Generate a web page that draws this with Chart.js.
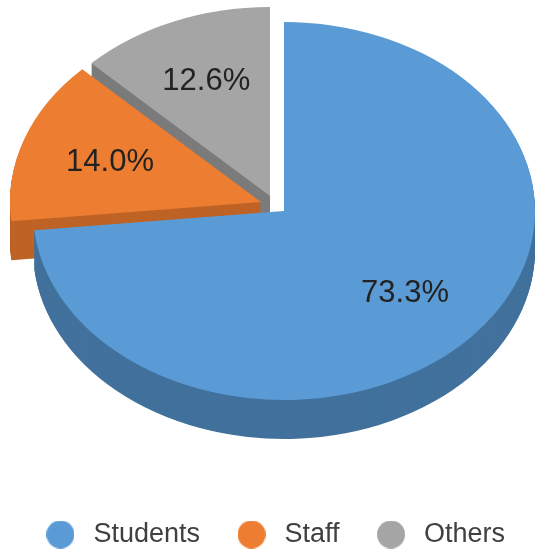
<!DOCTYPE html>
<html>
<head>
<meta charset="utf-8">
<style>html,body{margin:0;padding:0;background:#fff}canvas{display:block}</style>
<script src="https://cdn.jsdelivr.net/npm/chart.js@4"></script>
</head>
<body>
<canvas id="c" width="550" height="556"></canvas>
<script>
const categories = ['Students', 'Staff', 'Others'];
const shares = [73.3, 14.0, 12.6];
const topColors = ['#5B9BD5', '#ED7D31', '#A5A5A5'];
const wallColors = ['#41719C', '#BE6326', '#7B7B7B'];

const RADIUS = 251, TILT = 0.753, DEPTH = 39;
const labelRadius = [163, 160, 165];
const apexX = [284, 261, 270];
const apexY = [211, 202, 196];
const drawOrder = [2, 1, 0];

function sliceSpace(ctx, el, i, drop) {
  ctx.translate(apexX[i], apexY[i] + drop);
  ctx.scale(1, TILT);
  ctx.translate(-el.x, -el.y);
}

const tiltedPie = {
  id: 'tiltedPie',
  beforeDatasetsDraw(chart) {
    const ctx = chart.ctx;
    const els = chart.getDatasetMeta(0).data;
    for (const i of drawOrder) {
      const el = els[i], own = el.options;
      el.options = Object.assign({}, own, { backgroundColor: wallColors[i] });
      for (let d = DEPTH; d > 0; d--) {
        ctx.save();
        sliceSpace(ctx, el, i, d);
        el.draw(ctx);
        ctx.restore();
      }
      el.options = own;
      ctx.save();
      sliceSpace(ctx, el, i, 0);
      el.draw(ctx);
      ctx.restore();
    }
    ctx.save();
    ctx.font = '31px "Liberation Sans", Arial, sans-serif';
    ctx.fillStyle = '#222222';
    ctx.textAlign = 'center';
    ctx.textBaseline = 'middle';
    els.forEach((el, i) => {
      const mid = (el.startAngle + el.endAngle) / 2;
      ctx.fillText(shares[i].toFixed(1) + '%',
        apexX[i] + Math.cos(mid) * labelRadius[i],
        apexY[i] + Math.sin(mid) * labelRadius[i] * TILT);
    });
    ctx.restore();
    return false;
  }
};

function dot(color) {
  const s = document.createElement('canvas');
  s.width = 28; s.height = 28;
  const g = s.getContext('2d');
  g.fillStyle = color;
  g.beginPath(); g.arc(14, 14, 14, 0, Math.PI * 2); g.fill();
  return s;
}

new Chart(document.getElementById('c'), {
  type: 'pie',
  data: {
    labels: categories,
    datasets: [{ data: shares, backgroundColor: topColors, borderWidth: 0 }]
  },
  options: {
    responsive: false,
    animation: false,
    radius: RADIUS,
    layout: { padding: { right: 4, bottom: -2 } },
    plugins: {
      tooltip: { enabled: false },
      legend: {
        position: 'bottom',
        labels: {
          usePointStyle: true,
          pointStyleWidth: 39,
          boxHeight: 27,
          padding: 32,
          color: '#404040',
          font: { size: 27, family: '"Liberation Sans", Arial, sans-serif' },
          generateLabels: () => categories.map((t, i) => ({
            text: t, index: i, fillStyle: topColors[i], strokeStyle: topColors[i],
            lineWidth: 0, fontColor: '#404040', pointStyle: dot(topColors[i])
          }))
        }
      }
    }
  },
  plugins: [tiltedPie]
});
</script>
</body>
</html>
